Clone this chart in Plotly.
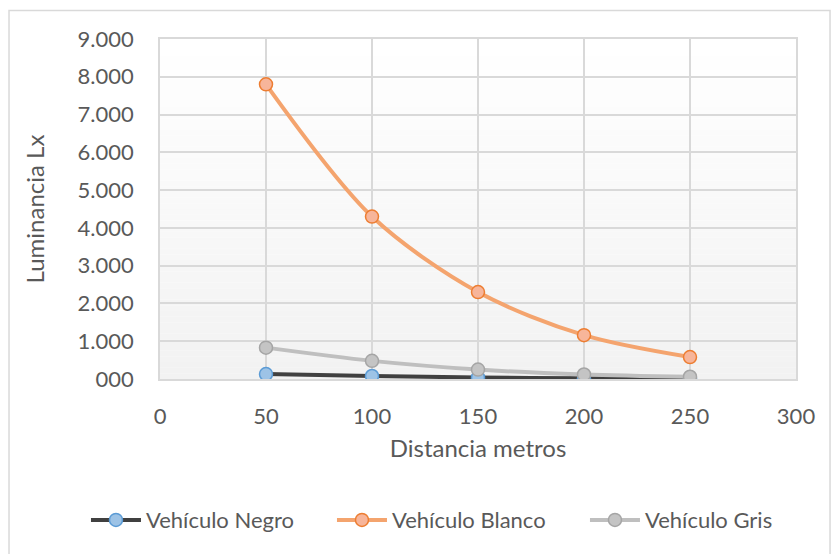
import plotly.graph_objects as go

# Distance (m) and measured luminance for each vehicle colour
distancia = [50, 100, 150, 200, 250]
negro = [0.13, 0.08, 0.04, 0.02, 0.01]
blanco = [7.80, 4.30, 2.30, 1.16, 0.58]
gris = [0.83, 0.48, 0.25, 0.12, 0.06]

y_ticks = [0, 1, 2, 3, 4, 5, 6, 7, 8, 9]
y_labels = ["000", "1.000", "2.000", "3.000", "4.000", "5.000",
            "6.000", "7.000", "8.000", "9.000"]
x_ticks = [0, 50, 100, 150, 200, 250, 300]

FONT = "Lato, 'Open Sans', sans-serif"
TEXT = "#595959"
GRID = "#d9d9d9"

# name, values, line colour, marker fill, marker edge, legend id, legend x
series = [
    ("Vehículo Negro", negro, "#404040", "#9dc3e6", "#5b9bd5", "legend", -0.1164),
    ("Vehículo Blanco", blanco, "#f4a46e", "#f7b59a", "#ed7d31", "legend2", 0.2704),
    ("Vehículo Gris", gris, "#bfbfbf", "#c4c4c4", "#a5a5a5", "legend3", 0.6682),
]

fig = go.Figure()
legends = {}
for name, vals, line_c, fill_c, edge_c, leg, lx in series:
    fig.add_trace(go.Scatter(
        x=distancia, y=vals, name=name, mode="lines+markers", legend=leg,
        line=dict(color=line_c, width=4, shape="spline", smoothing=0.9),
        marker=dict(size=13, color=fill_c, line=dict(color=edge_c, width=1.5)),
    ))
    legends[leg] = dict(
        orientation="h", x=lx, xanchor="left", y=-0.415, yanchor="middle",
        font=dict(size=22, color=TEXT), itemwidth=50, bgcolor="rgba(0,0,0,0)",
    )

# soft vertical gradient behind the plot area (white -> light grey)
shapes = []
n = 60
for i in range(n):
    t = i / (n - 1)
    g = int(round(255 - (255 - 242) * t))
    shapes.append(dict(
        type="rect", xref="x domain", yref="y domain",
        x0=0, x1=1, y0=1 - (i + 1) / n, y1=1 - i / n,
        fillcolor=f"rgb({g},{g},{g})", line=dict(width=0), layer="below",
    ))
# outer chart frame
shapes.append(dict(
    type="rect", xref="paper", yref="paper",
    x0=-0.2374, x1=1.0535, y0=-0.60, y1=1.0838,
    line=dict(color="#d9d9d9", width=1.5), fillcolor="rgba(0,0,0,0)",
))

fig.update_layout(
    width=831, height=554,
    margin=dict(l=160, r=35, t=39, b=175),
    paper_bgcolor="white", plot_bgcolor="white",
    font=dict(family=FONT, color=TEXT, size=22),
    shapes=shapes,
    showlegend=True,
    **legends,
    xaxis=dict(
        range=[0, 300], tickvals=x_ticks, showgrid=True, gridcolor=GRID, gridwidth=1.5,
        showline=True, linecolor=GRID, linewidth=1.5, mirror=True, zeroline=False,
        ticks="", ticklabelstandoff=17, tickfont=dict(size=22, color=TEXT),
        title=dict(text="Distancia metros", font=dict(size=24, color=TEXT), standoff=12),
    ),
    yaxis=dict(
        range=[0, 9], tickvals=y_ticks, ticktext=y_labels, showgrid=True,
        gridcolor=GRID, gridwidth=1.5, showline=True, linecolor=GRID, linewidth=1.5,
        mirror=True, zeroline=False, ticks="", ticklabelstandoff=20,
        tickfont=dict(size=22, color=TEXT),
        title=dict(text="Luminancia Lx", font=dict(size=24, color=TEXT), standoff=26),
    ),
)

fig.write_html("out.html")
